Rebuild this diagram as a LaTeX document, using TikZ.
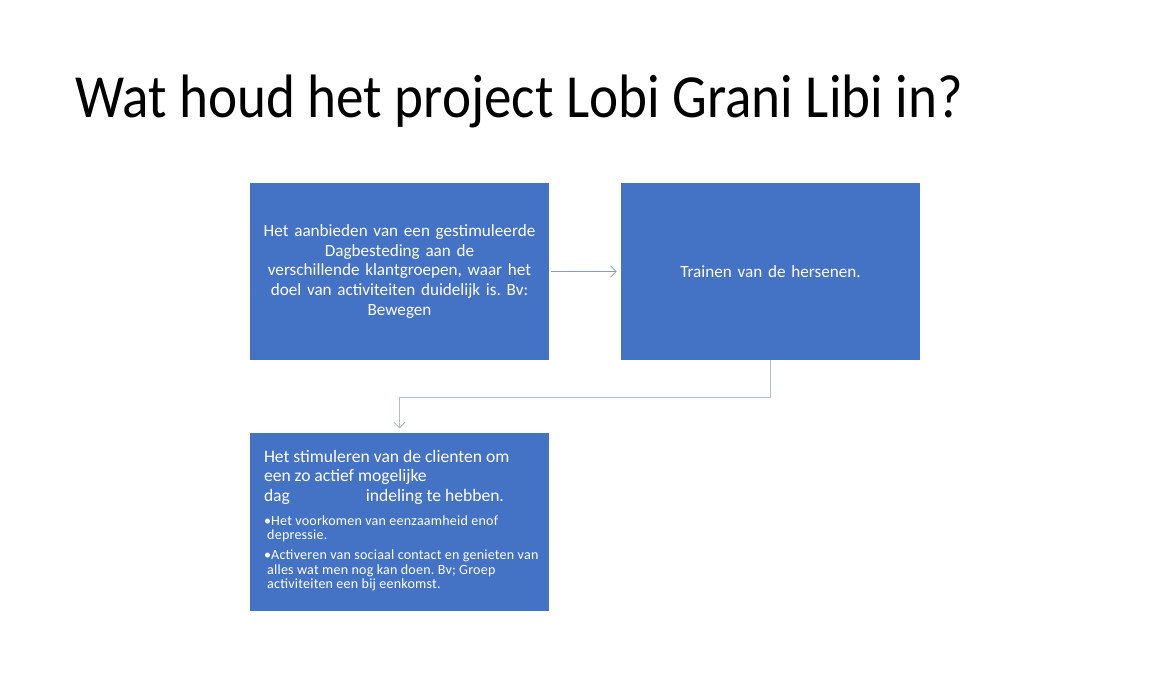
\documentclass[tikz,border=0pt]{standalone}
\usepackage{fontspec}
\setmainfont{Carlito}
\newfontfamily\titelfont[FakeStretch=0.9]{Carlito}
\usetikzlibrary{arrows.meta}
\definecolor{blokblauw}{HTML}{4472C4}
\definecolor{pijlgrijs}{HTML}{8A9CBB}
\definecolor{lijngrijs}{HTML}{AFBBD0}
\frenchspacing
\begin{document}
\begin{tikzpicture}[scale=1.0,
  blok/.style={fill=blokblauw, minimum width=7.475cm, minimum height=4.425cm,
    inner sep=0pt, text=white},
  pijl/.style={line width=0.6pt, -{Straight Barb[length=4pt,width=8pt]}}]
\useasboundingbox (0,0) rectangle (29.25,17);
\fill[white] (0,0) rectangle (29.25,17);

\node[anchor=base west, inner sep=0pt, font=\titelfont\fontsize{43.6}{50}\selectfont] (titel)
  at (1.875,14.05) {Wat houd het project Lobi Grani Libi in?};

\node[blok, align=center, text width=7.4cm, font=\fontsize{12.2}{14}\selectfont]
  (aanbod) at (9.9875,10.2125)
  {Het aanbieden van een gestimuleerde\\ Dagbesteding aan de\\
   verschillende klantgroepen, waar het\\ doel van activiteiten duidelijk is. Bv:\\ Bewegen};
\node[blok, align=center, text width=7.4cm, font=\fontsize{12.2}{14}\selectfont]
  (training) at (19.2625,10.2125) {Trainen van de hersenen.};
\node[blok] (stimulans) at (9.9875,3.95) {%
  \parbox[t][4.425cm][t]{7.475cm}{\leftskip=0.35cm\vspace{0.42cm}%
    {\fontsize{12.5}{13.8}\selectfont Het stimuleren van de clienten om\newline
     een zo actief mogelijke\newline dag\hspace{1.9cm}indeling te hebben.\par}
    \vspace{6.7pt}
    {\fontsize{10}{10.3}\selectfont\addfontfeatures{LetterSpace=1.5}
     \hangindent=0.08cm \hangafter=1 •Het voorkomen van eenzaamheid enof\newline depressie.\par
     \vspace{3.9pt}
     \hangindent=0.08cm \hangafter=1 •Activeren van sociaal contact en genieten van\newline
     alles wat men nog kan doen. Bv; Groep\newline activiteiten een bij eenkomst.\par}}};

\coordinate (knik) at (9.9875,7.075);
\draw[pijl, draw=pijlgrijs, shorten <=0.05cm, shorten >=0.1cm] (aanbod) -- (training);
\draw[pijl, draw=lijngrijs, shorten >=0.12cm] (training.south) |- (knik) -- (stimulans.north);
\end{tikzpicture}
\end{document}
